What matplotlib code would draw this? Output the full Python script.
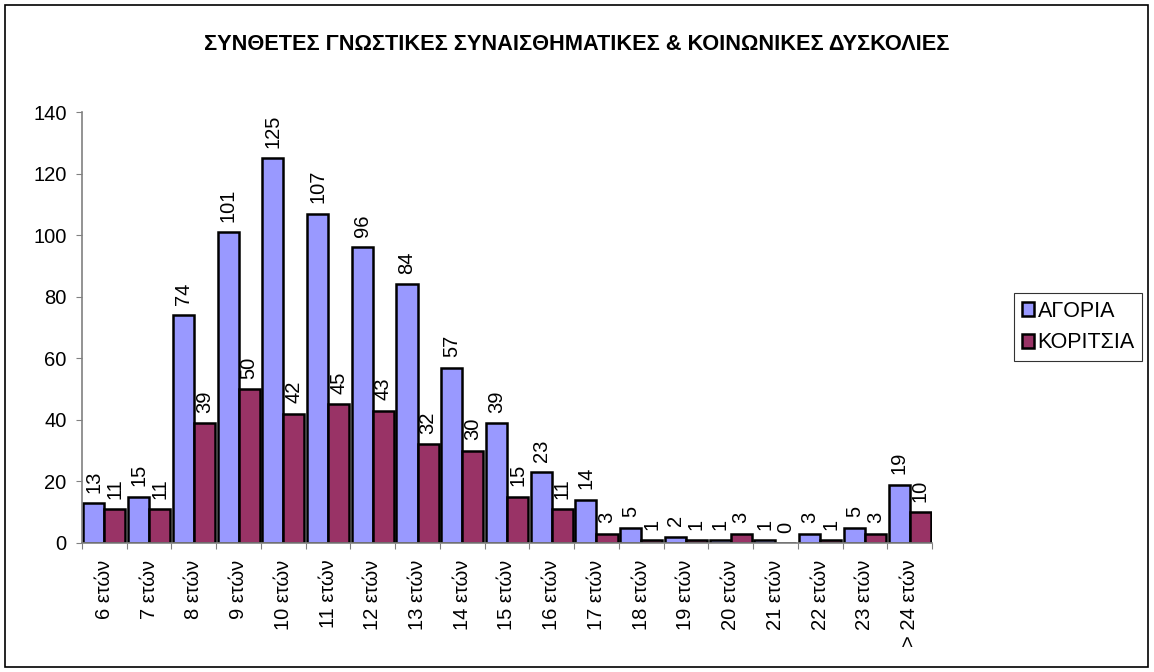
import matplotlib
matplotlib.use("Agg")
import matplotlib.pyplot as plt
from matplotlib.patches import Rectangle
import numpy as np

plt.rcParams['font.family'] = ['Liberation Sans', 'DejaVu Sans']

categories = ["6 ετών", "7 ετών", "8 ετών", "9 ετών", "10 ετών", "11 ετών", "12 ετών",
              "13 ετών", "14 ετών", "15 ετών", "16 ετών", "17 ετών", "18 ετών", "19 ετών",
              "20 ετών", "21 ετών", "22 ετών", "23 ετών", "> 24 ετών"]
boys = [13, 15, 74, 101, 125, 107, 96, 84, 57, 39, 23, 14, 5, 2, 1, 1, 3, 5, 19]
girls = [11, 11, 39, 50, 42, 45, 43, 32, 30, 15, 11, 3, 1, 1, 3, 0, 1, 3, 10]
series_names = ["ΑΓΟΡΙΑ", "ΚΟΡΙΤΣΙΑ"]
title = "ΣΥΝΘΕΤΕΣ ΓΝΩΣΤΙΚΕΣ ΣΥΝΑΙΣΘΗΜΑΤΙΚΕΣ & ΚΟΙΝΩΝΙΚΕΣ ΔΥΣΚΟΛΙΕΣ"

fig = plt.figure(figsize=(11.54, 6.72), dpi=100)
ax = fig.add_axes([82/1154, 1-543/672, (932-82)/1154, (543-112)/672])

x = np.arange(len(categories))
w = 0.47
b1 = ax.bar(x - w/2, boys, w, color="#9999FF", edgecolor="black", linewidth=1.8, label=series_names[0])
b2 = ax.bar(x + w/2, girls, w, color="#993366", edgecolor="black", linewidth=1.8, label=series_names[1])

for bars, vals in ((b1, boys), (b2, girls)):
    for r, v in zip(bars, vals):
        ax.annotate(str(v), (r.get_x() + r.get_width()/2, v), xytext=(0, 7.5),
                    textcoords="offset points", rotation=90, ha="center", va="bottom",
                    fontsize=14.5)

ax.set_xlim(-0.5, len(categories) - 0.5)
ax.set_ylim(0, 140)
ax.set_yticks(range(0, 141, 20))
ax.tick_params(axis='y', labelsize=14.5, length=4, color="#808080", pad=7)
ax.set_xticks(np.arange(len(categories) + 1) - 0.5)
ax.set_xticklabels([])
ax.set_xticks(x, minor=True)
ax.set_xticklabels(categories, minor=True, rotation=90, fontsize=14.5, va="top")
ax.tick_params(axis='x', which='major', length=4, color="#808080")
ax.tick_params(axis='x', which='minor', length=0, pad=12)
for s in ("top", "right"):
    ax.spines[s].set_visible(False)
for s in ("left", "bottom"):
    ax.spines[s].set_color("#808080")
    ax.spines[s].set_linewidth(1.2)

fig.text(577/1154, 1-45/672, title, ha="center", va="center", fontsize=15.7, fontweight="bold")

leg = fig.legend(loc="upper left", bbox_to_anchor=(1014/1154, 1-293/672), fontsize=15.5,
                 frameon=True, fancybox=False, edgecolor="black", handlelength=0.6,
                 handleheight=0.6, handletextpad=0.15, borderpad=0.35, labelspacing=0.5,
                 borderaxespad=0)
leg.get_frame().set_linewidth(0.8)

fig.patches.append(Rectangle((5/1154, 5/672), 1143/1154, 662/672, transform=fig.transFigure,
                             fill=False, edgecolor="black", linewidth=1.2))

fig.savefig("out.png", dpi=100)
